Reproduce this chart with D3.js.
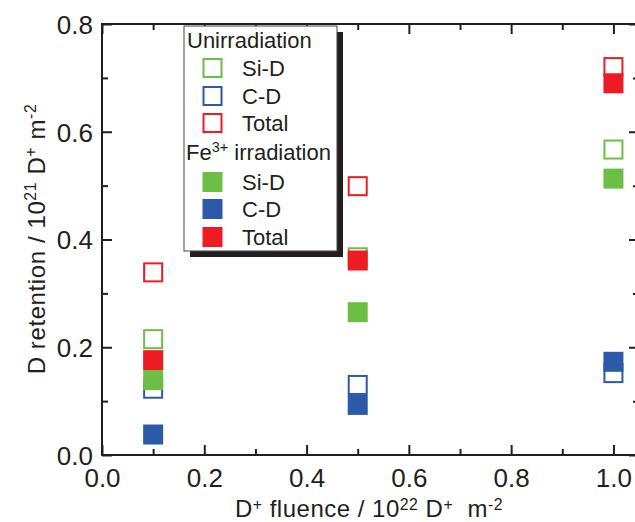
<!DOCTYPE html>
<html>
<head>
<meta charset="utf-8">
<script src="https://cdn.jsdelivr.net/npm/d3@7"></script>
<style>
  html, body { margin: 0; padding: 0; background: #fff; }
  svg { display: block; font-family: "Liberation Sans", Arial, Helvetica, sans-serif; }
</style>
</head>
<body>
<svg id="chart" width="635" height="522"></svg>
<script>
// ---- data ----
const fluence = [0.1, 0.5, 1.0];
const unirrSiD = [0.215, 0.367, 0.567];
const unirrCD = [0.123, 0.130, 0.152];
const unirrTotal = [0.339, 0.499, 0.720];
const feSiD = [0.139, 0.265, 0.513];
const feCD = [0.038, 0.093, 0.173];
const feTotal = [0.176, 0.361, 0.690];
const xTicks = [0.0, 0.2, 0.4, 0.6, 0.8, 1.0];
const yTicks = [0.0, 0.2, 0.4, 0.6, 0.8];

const GREEN = "#6dbe45", BLUE = "#2a5aa8", RED = "#ed1c24", DARK = "#231f20";

const svg = d3.select("#chart");
const L = 102, R = 639, T = 24, B = 455;
const x = d3.scaleLinear().domain([0, 1.05]).range([L, R]);
const y = d3.scaleLinear().domain([0, 0.8]).range([B, T]);

// frame
svg.append("rect").attr("x", L).attr("y", T).attr("width", R - L).attr("height", B - T)
  .attr("fill", "none").attr("stroke", DARK).attr("stroke-width", 2);

const xMinor = d3.range(0, 1.051, 0.1);
const yMinor = d3.range(0, 0.801, 0.1);
function isMajor(v) { return Math.abs(v * 5 - Math.round(v * 5)) < 1e-6; }

// axes with inward ticks, via d3 axes
function tickAxis(gen, transform) {
  const g = svg.append("g").attr("transform", transform).call(gen);
  g.select(".domain").remove();
  g.selectAll("text").remove();
  g.selectAll("line").attr("stroke", DARK).attr("stroke-width", 2);
  return g;
}
// bottom
tickAxis(d3.axisTop(x).tickValues(xMinor).tickSizeOuter(0).tickSizeInner(6), `translate(0,${B})`)
  .selectAll(".tick line").attr("y2", d => isMajor(d) ? -10 : -6);
// top
tickAxis(d3.axisBottom(x).tickValues(xMinor).tickSizeOuter(0), `translate(0,${T})`)
  .selectAll(".tick line").attr("y2", d => isMajor(d) ? 10 : 6);
// left
tickAxis(d3.axisRight(y).tickValues(yMinor).tickSizeOuter(0), `translate(${L},0)`)
  .selectAll(".tick line").attr("x2", d => isMajor(d) ? 10 : 6);
// right
tickAxis(d3.axisLeft(y).tickValues(yMinor).tickSizeOuter(0), `translate(${R},0)`)
  .selectAll(".tick line").attr("x2", d => isMajor(d) ? -10 : -6);

// tick labels
const fmt = d3.format(".1f");
const xl = svg.append("g").call(d3.axisBottom(x).tickValues(xTicks).tickFormat(fmt).tickSize(0))
  .attr("transform", `translate(0,${B})`);
xl.select(".domain").remove();
xl.selectAll("text").attr("font-size", 26).attr("fill", DARK)
  .attr("font-family", "Liberation Sans, Arial, sans-serif")
  .attr("y", 32).attr("dy", null);
const yl = svg.append("g").call(d3.axisLeft(y).tickValues(yTicks).tickFormat(fmt).tickSize(0))
  .attr("transform", `translate(${L},0)`);
yl.select(".domain").remove();
yl.selectAll("text").attr("font-size", 26).attr("fill", DARK)
  .attr("font-family", "Liberation Sans, Arial, sans-serif")
  .attr("x", -9).attr("dy", "0.36em");

// rich text helper: parts = [[text, 'n'|'sup']]
function rich(g, parts, size, shift) {
  const sh = shift === undefined ? 0.38 : shift;
  const t = g.append("text").attr("font-size", size).attr("fill", DARK);
  let state = 'n';
  parts.forEach(([s, k]) => {
    const ts = t.append("tspan").text(s);
    if (k === 'sup' && state !== 'sup') { ts.attr("dy", -size * sh).attr("font-size", size * 0.66); }
    else if (k === 'sup') { ts.attr("font-size", size * 0.66); }
    else if (k === 'n' && state === 'sup') { ts.attr("dy", size * sh); }
    state = k;
  });
  return t;
}

// axis titles
rich(svg, [["D", 'n'], ["+", 'sup'], [" fluence / 10", 'n'], ["22", 'sup'], [" D", 'n'], ["+", 'sup'], ["  m", 'n'], ["-2", 'sup']], 24, 0.3)
  .attr("x", 369).attr("y", 517).attr("text-anchor", "middle").attr("xml:space", "preserve")
  .attr("letter-spacing", 0.5);
rich(svg, [["D retention / 10", 'n'], ["21", 'sup'], [" D", 'n'], ["+", 'sup'], [" m", 'n'], ["-2", 'sup']], 24)
  .attr("text-anchor", "middle").attr("transform", "translate(45,239) rotate(-90)")
  .attr("letter-spacing", 0.6);

// legend
const lg = svg.append("g");
const lx = 184, ly = 26, lw = 153, lh = 225;
lg.append("rect").attr("x", lx + 6).attr("y", ly + 6).attr("width", lw).attr("height", lh).attr("fill", DARK);
lg.append("rect").attr("x", lx).attr("y", ly).attr("width", lw).attr("height", lh)
  .attr("fill", "#fff").attr("stroke", "#444").attr("stroke-width", 1);

const SZ = 20;
function marker(g, cx, cy, color, filled) {
  if (filled) {
    g.append("rect").attr("x", cx - SZ / 2).attr("y", cy - SZ / 2).attr("width", SZ).attr("height", SZ)
      .attr("fill", color);
  } else {
    g.append("rect").attr("x", cx - SZ / 2 + 1).attr("y", cy - SZ / 2 + 1).attr("width", SZ - 2).attr("height", SZ - 2)
      .attr("fill", "#fff").attr("stroke", color).attr("stroke-width", 2);
  }
}

rich(lg, [["Unirradiation", 'n']], 22).attr("x", 187).attr("y", 48);
rich(lg, [["Fe", 'n'], ["3+", 'sup'], [" irradiation", 'n']], 22).attr("x", 186).attr("y", 160);
const legendRows = [
  ["Si-D", GREEN, false, 68], ["C-D", BLUE, false, 96], ["Total", RED, false, 123],
  ["Si-D", GREEN, true, 182], ["C-D", BLUE, true, 209], ["Total", RED, true, 237]
];
legendRows.forEach(([label, c, f, cy]) => {
  marker(lg, 212.5, cy, c, f);
  rich(lg, [[label, 'n']], 22).attr("x", 242).attr("y", cy + 8);
});

// data markers: open first, then filled
const pts = svg.append("g");
const series = [
  [unirrSiD, GREEN, false], [unirrCD, BLUE, false], [unirrTotal, RED, false],
  [feSiD, GREEN, true], [feCD, BLUE, true], [feTotal, RED, true]
];
series.forEach(([vals, c, f]) => {
  vals.forEach((v, i) => marker(pts, x(fluence[i]), y(v), c, f));
});
</script>
</body>
</html>
